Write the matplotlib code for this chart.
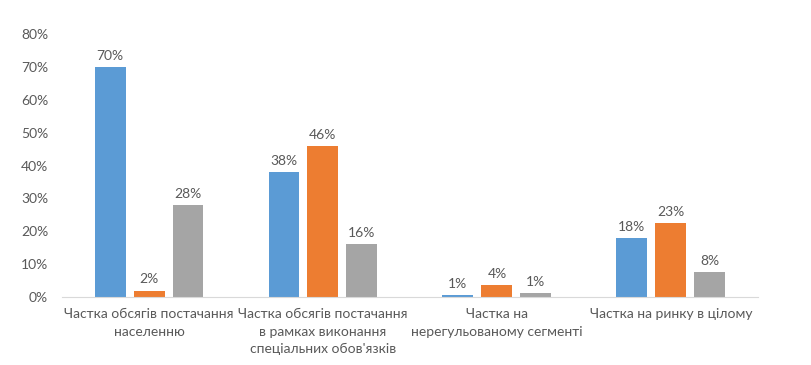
import numpy as np
import matplotlib
matplotlib.use("Agg")
from matplotlib import pyplot as plt

plt.rcParams['font.family'] = ['Lato', 'DejaVu Sans']

categories = ["Частка обсягів постачання\nнаселенню",
              "Частка обсягів постачання\nв рамках виконання\nспеціальних обов'язків",
              "Частка на\nнерегульованому сегменті",
              "Частка на ринку в цілому"]
series_a = [70, 38, 0.5, 18]
series_b = [2, 46, 3.6, 22.6]
series_c = [28, 16, 1.2, 7.7]
labels_a = ["70%", "38%", "1%", "18%"]
labels_b = ["2%", "46%", "4%", "23%"]
labels_c = ["28%", "16%", "1%", "8%"]
colors = ["#5B9BD5", "#ED7D31", "#A5A5A5"]
text_color = "#595959"

fig = plt.figure(figsize=(8.11, 3.65), dpi=100)
ax = fig.add_axes([0.0765, 0.186, 0.858, 0.721])

x = np.arange(len(categories))
w = 0.178
step = 0.224
for i, (vals, labs) in enumerate(zip([series_a, series_b, series_c],
                                     [labels_a, labels_b, labels_c])):
    bars = ax.bar(x + (i - 1) * step, vals, width=w, color=colors[i])
    for b, lab in zip(bars, labs):
        ax.text(b.get_x() + b.get_width() / 2, b.get_height() + 1.6, lab,
                ha="center", va="bottom", fontsize=10, color=text_color)

ax.set_xlim(-0.5, len(categories) - 0.5)
ax.set_ylim(0, 80)
ax.set_yticks(np.arange(0, 81, 10))
ax.set_yticklabels([f"{v}%" for v in range(0, 81, 10)])
ax.set_xticks(x)
ax.set_xticklabels(categories, linespacing=1.55)
ax.tick_params(axis="both", length=0, colors=text_color, labelsize=10)
ax.tick_params(axis="y", pad=10)
ax.tick_params(axis="x", pad=8)
for s in ["top", "right", "left"]:
    ax.spines[s].set_visible(False)
ax.spines["bottom"].set_color("#D9D9D9")

fig.savefig("out.png", dpi=100)
